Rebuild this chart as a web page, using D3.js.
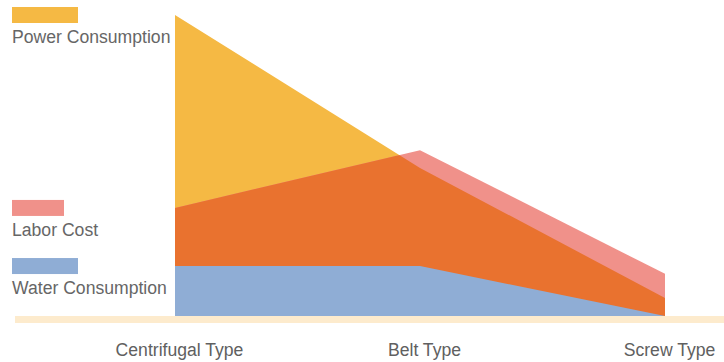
<!DOCTYPE html>
<html>
<head>
<meta charset="utf-8">
<script src="https://cdn.jsdelivr.net/npm/d3@7"></script>
<style>
  body { margin: 0; background: #fff; }
  text { font-family: "Liberation Sans", Arial, sans-serif; fill: #666; }
</style>
</head>
<body>
<svg id="chart"></svg>
<script>
// data (scale 0..100)
const categories = ["Centrifugal Type", "Belt Type", "Screw Type"];
const seriesNames = ["Power Consumption", "Labor Cost", "Water Consumption"];
const power = [100, 49.2, 6.0];
const labor = [35.9, 55.1, 14.0];
const water = [16.6, 16.6, 0];

let width = 724, height = 362;
let colors = {power: "#F5B944", labor: "#F0918A", overlap: "#E9722F", water: "#8FADD5", base: "#FDEBCD"};
let legendW = [66, 52, 66];

let svg = d3.select("#chart").attr("width", width).attr("height", height);

let x = d3.scalePoint().domain(categories).range([175, 665]);
let y = d3.scaleLinear().domain([0, 100]).range([316, 15]);

let area = d3.area()
  .x(function(d, i) { return x(categories[i]); })
  .y0(y(0))
  .y1(function(d) { return y(d); });

svg.append("clipPath").attr("id", "powerClip")
  .append("path").attr("d", area(power));

svg.append("path").attr("d", area(power)).attr("fill", colors.power);
svg.append("path").attr("d", area(labor)).attr("fill", colors.labor);
// where labor sits over power it turns dark orange
svg.append("path").attr("d", area(labor)).attr("fill", colors.overlap)
  .attr("clip-path", "url(#powerClip)");
svg.append("path").attr("d", area(water)).attr("fill", colors.water);

// base band
svg.append("rect")
  .attr("x", 15).attr("y", y(0)).attr("width", width - 15).attr("height", 7)
  .attr("fill", colors.base);

// category axis
let axis = svg.append("g")
  .attr("transform", "translate(4," + y(0) + ")")
  .call(d3.axisBottom(x).tickSize(0));
axis.select(".domain").remove();
axis.selectAll("text")
  .attr("y", 40).attr("dy", 0)
  .style("font-size", "17.6px")
  .style("fill", "#606060")
  .style("font-family", "'Liberation Sans', Arial, sans-serif");

// legend, each key sits at its series' first value
let starts = [power[0], labor[0], water[0]];
let fills = [colors.power, colors.labor, colors.water];
seriesNames.forEach(function(name, i) {
  let cy = y(starts[i]);
  svg.append("rect")
    .attr("x", 12).attr("y", cy - 8).attr("width", legendW[i]).attr("height", 16)
    .attr("fill", fills[i]);
  svg.append("text")
    .attr("x", 12).attr("y", cy + 28)
    .style("font-size", "17.6px")
    .text(name);
});
</script>
</body>
</html>
